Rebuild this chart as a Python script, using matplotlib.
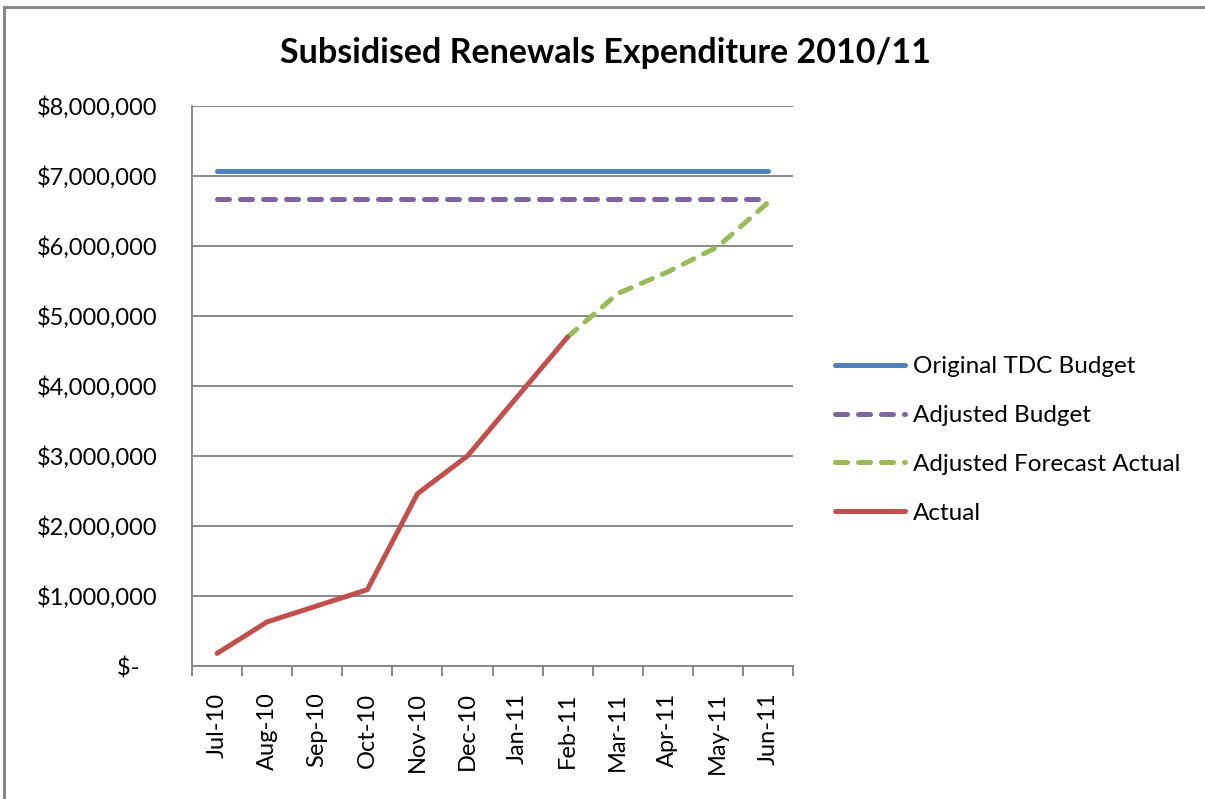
import numpy as np
import matplotlib
matplotlib.use("Agg")
import matplotlib.pyplot as plt
from matplotlib.ticker import FuncFormatter, FixedLocator
from matplotlib.lines import Line2D

plt.rcParams["font.family"] = ["Lato", "DejaVu Sans"]

# data
months = ["Jul-10", "Aug-10", "Sep-10", "Oct-10", "Nov-10", "Dec-10",
          "Jan-11", "Feb-11", "Mar-11", "Apr-11", "May-11", "Jun-11"]
original_budget = [7070000] * 12
adjusted_budget = [6675000] * 12
forecast = [np.nan] * 7 + [4700000, 5320000, 5630000, 5990000, 6620000]
actual = [180000, 630000, 860000, 1090000, 2460000, 3000000, 3850000, 4700000] + [np.nan] * 4

blue = "#4F81BD"
purple = "#8064A2"
green = "#9BBB59"
red = "#C0504D"
grey = "#888888"

fig = plt.figure(figsize=(12.05, 7.99), dpi=100)
W, H = 1205, 799
ax = fig.add_axes([192 / W, 1 - 666 / H, (793 - 192) / W, (666 - 106) / H])

x = np.arange(len(months))
lw = 3.6
dash = (2.4, 2.2)
ax.plot(x, original_budget, color=blue, lw=lw, solid_capstyle="round",
        label="Original TDC Budget")
ax.plot(x, adjusted_budget, color=purple, lw=lw, dashes=dash,
        dash_capstyle="round", label="Adjusted Budget")
ax.plot(x, forecast, color=green, lw=lw, dashes=dash,
        dash_capstyle="round", label="Adjusted Forecast Actual")
ax.plot(x, actual, color=red, lw=lw, solid_capstyle="round",
        solid_joinstyle="round", label="Actual")

ax.set_xlim(-0.5, 11.5)
ax.set_ylim(0, 8000000)
ax.set_yticks(np.arange(0, 8000001, 1000000))


def money(v, pos):
    if v == 0:
        return "$-   "
    return "${:,.0f}".format(v)


ax.yaxis.set_major_formatter(FuncFormatter(money))
ax.grid(axis="y", color=grey, lw=1.4)
ax.set_axisbelow(True)
ax.tick_params(axis="y", length=0, pad=25, labelsize=17, colors="black")

ax.set_xticks(x)
ax.set_xticklabels(months, rotation=90, fontsize=17)
ax.tick_params(axis="x", which="major", length=0, pad=19)
ax.xaxis.set_minor_locator(FixedLocator(np.arange(-0.5, 12, 1)))
ax.tick_params(axis="x", which="minor", length=7, width=1.4, color=grey)

for s in ["top", "right"]:
    ax.spines[s].set_visible(False)
for s in ["left", "bottom"]:
    ax.spines[s].set_color(grey)
    ax.spines[s].set_linewidth(1.4)

fig.text(605 / W, 1 - 53 / H, "Subsidised Renewals Expenditure 2010/11",
         ha="center", va="center", fontsize=24.5, fontweight="bold")

fig.legend(loc="center left", bbox_to_anchor=(835 / W, 1 - 440 / H),
           frameon=False, fontsize=17.5, handlelength=2.9, handletextpad=0.3,
           labelspacing=1.15, borderpad=0, borderaxespad=0)

# chart area border (left and top edges visible)
fig.add_artist(Line2D([4 / W, 4 / W], [0, 1 - 7 / H], color=grey, lw=2.2,
                      transform=fig.transFigure))
fig.add_artist(Line2D([4 / W, 1], [1 - 7 / H, 1 - 7 / H], color=grey, lw=2.2,
                      transform=fig.transFigure))

fig.savefig("out.png", dpi=100)
